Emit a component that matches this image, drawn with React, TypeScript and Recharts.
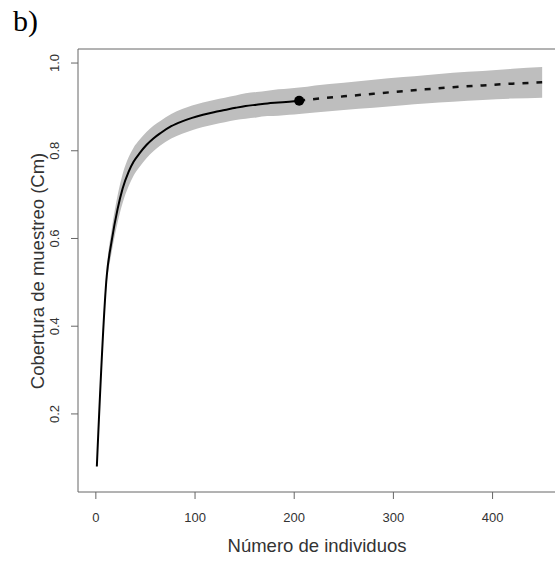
import { ComposedChart, Area, Line, Scatter, XAxis, YAxis, ReferenceLine } from 'recharts'

// curva observada (rarefacción)
const obsX = [1, 11, 16, 22, 27, 33, 38, 44, 51, 58, 65, 76, 87, 97, 108, 119, 130, 141, 151, 162, 173, 184, 195, 205]
const obsY = [0.080, 0.515, 0.595, 0.668, 0.714, 0.752, 0.775, 0.794, 0.813, 0.828, 0.840, 0.856, 0.867, 0.875, 0.882, 0.888, 0.893, 0.898, 0.902, 0.905, 0.908, 0.910, 0.912, 0.914]

// extrapolación
const extX = [205, 221, 250, 280, 310, 332, 360, 390, 420, 450]
const extY = [0.914, 0.918, 0.924, 0.930, 0.936, 0.940, 0.945, 0.949, 0.953, 0.956]

// intervalo de confianza
const bandX = [1, 11, 16, 22, 27, 33, 38, 44, 51, 58, 65, 76, 87, 97, 108, 119, 130, 141, 151, 162, 173, 184, 195, 205, 221, 250, 280, 310, 332, 360, 390, 420, 450]
const bandLo = [0.077, 0.497, 0.569, 0.637, 0.681, 0.719, 0.743, 0.763, 0.783, 0.799, 0.812, 0.828, 0.839, 0.847, 0.854, 0.860, 0.865, 0.870, 0.873, 0.876, 0.879, 0.880, 0.882, 0.884, 0.887, 0.893, 0.898, 0.904, 0.908, 0.912, 0.916, 0.919, 0.921]
const bandHi = [0.083, 0.533, 0.621, 0.699, 0.747, 0.785, 0.807, 0.825, 0.843, 0.857, 0.868, 0.884, 0.895, 0.903, 0.910, 0.916, 0.921, 0.926, 0.931, 0.934, 0.937, 0.940, 0.942, 0.944, 0.949, 0.955, 0.962, 0.968, 0.972, 0.978, 0.982, 0.987, 0.991]

const xTicks = [0, 100, 200, 300, 400]
const yTicks = [0.2, 0.4, 0.6, 0.8, 1.0]
const xDomain = [-18, 470]
const yDomain = [0.022, 1.032]

const observed = obsX.map((x, i) => ({ x, y: obsY[i] }))
const extrapolated = extX.map((x, i) => ({ x, y: extY[i] }))
const band = bandX.map((x, i) => ({ x, range: [bandLo[i], bandHi[i]] }))
const refPoint = [{ x: obsX[obsX.length - 1], y: obsY[obsY.length - 1] }]

const font = '"Liberation Sans", Arial, Helvetica, sans-serif'
const axisColor = '#666'
const textColor = '#333'

function YTick(props: any) {
  const { x, y, payload } = props
  return (
    <text
      x={x}
      y={y}
      transform={`rotate(-90, ${x}, ${y})`}
      textAnchor="middle"
      fontSize={13}
      fill={textColor}
      fontFamily={font}
    >
      {Number(payload.value).toFixed(1)}
    </text>
  )
}

export default function App() {
  return (
    <div
      style={{
        position: 'absolute',
        left: 0,
        top: 0,
        width: 555,
        height: 562,
        overflow: 'hidden',
        background: '#fff',
      }}
    >
      <div
        style={{
          position: 'absolute',
          left: 13,
          top: 6,
          fontFamily: '"Liberation Serif", "Times New Roman", serif',
          fontSize: 30,
          lineHeight: '30px',
          color: '#000',
        }}
      >
        b)
      </div>
      <ComposedChart width={562} height={562} margin={{ top: 49, right: 0, bottom: 0, left: 0 }}>
        <XAxis
          dataKey="x"
          type="number"
          domain={xDomain}
          ticks={xTicks}
          allowDataOverflow
          height={70}
          tickSize={7}
          tickMargin={14}
          stroke={axisColor}
          tick={{ fontSize: 13, fill: textColor, fontFamily: font }}
          label={{
            content: () => (
              <text x={317} y={552} textAnchor="middle" fontSize={18.5} fill={textColor} fontFamily={font}>
                Número de individuos
              </text>
            ),
          }}
        />
        <YAxis
          type="number"
          domain={yDomain}
          ticks={yTicks}
          allowDataOverflow
          width={78}
          tickSize={7}
          tickMargin={12}
          stroke={axisColor}
          tick={<YTick />}
          label={{
            content: () => (
              <text
                x={44}
                y={271}
                transform="rotate(-90, 44, 271)"
                textAnchor="middle"
                fontSize={18.5}
                fill={textColor}
                fontFamily={font}
              >
                Cobertura de muestreo (Cm)
              </text>
            ),
          }}
        />
        <ReferenceLine y={yDomain[1]} stroke={axisColor} strokeWidth={1} ifOverflow="extendDomain" />
        <Area
          data={band}
          dataKey="range"
          type="monotone"
          stroke="none"
          fill="#bebebe"
          fillOpacity={1}
          isAnimationActive={false}
        />
        <Line
          data={observed}
          dataKey="y"
          type="monotone"
          stroke="#000"
          strokeWidth={2}
          dot={false}
          isAnimationActive={false}
        />
        <Line
          data={extrapolated}
          dataKey="y"
          type="monotone"
          stroke="#111"
          strokeWidth={2.5}
          strokeDasharray="6 8"
          dot={false}
          isAnimationActive={false}
        />
        <Scatter
          data={refPoint}
          dataKey="y"
          fill="#000"
          isAnimationActive={false}
          shape={(p: any) => <circle cx={p.cx} cy={p.cy} r={5} fill="#000" />}
        />
      </ComposedChart>
    </div>
  )
}
